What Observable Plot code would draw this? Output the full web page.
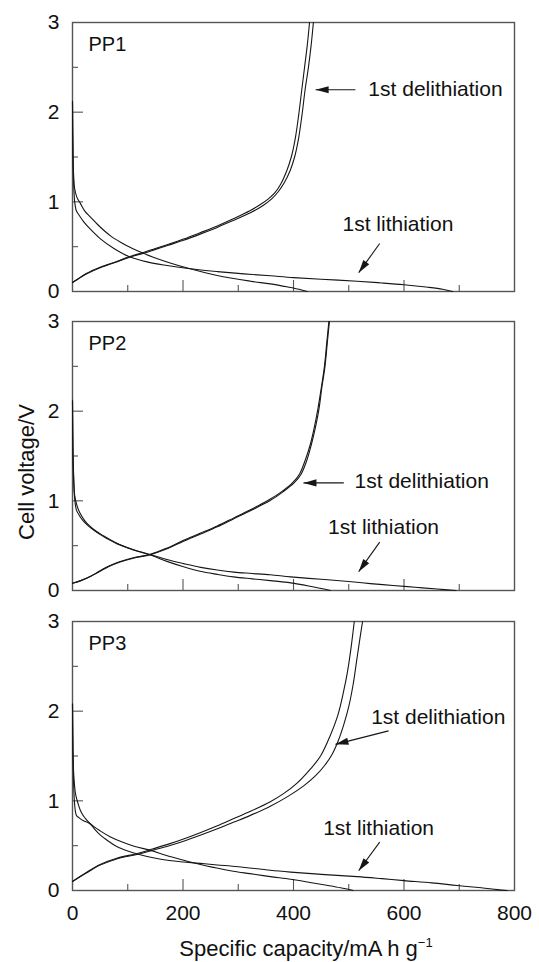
<!DOCTYPE html>
<html><head><meta charset="utf-8">
<script src="https://cdn.jsdelivr.net/npm/d3@7"></script>
<script src="https://cdn.jsdelivr.net/npm/@observablehq/plot@0.6"></script>
<style>
html,body{margin:0;padding:0;background:#fff;}
#fig{position:relative;width:539px;height:962px;overflow:hidden;font-family:"Liberation Sans",Arial,Helvetica,sans-serif;color:#111;background:#fff;}
#fig svg{display:block;}
.ytitle{position:absolute;left:-123px;top:461px;width:300px;height:22px;line-height:22px;font-size:22px;text-align:center;transform:rotate(-90deg);white-space:nowrap;}
.xtitle{position:absolute;left:106px;top:937px;width:400px;height:23px;line-height:23px;font-size:22px;text-align:center;white-space:nowrap;}
.xtitle sup{font-size:13px;vertical-align:0;position:relative;top:-9px;}
</style>
</head><body>
<div id="fig"></div>
<script>
// ---- data ----
const panelNames = ["PP1", "PP2", "PP3"];
const curveNames = ["delithiation A", "delithiation B", "1st lithiation", "2nd lithiation"];
const capDomain = [0, 800];
const voltDomain = [0, 3];
const capTickLabels = [0, 200, 400, 600, 800];
const capTicksMajor = [200, 400, 600];
const capTicksMinor = [100, 300, 500, 700];
const voltTickLabels = [0, 1, 2, 3];
const voltTicksMajor = [1, 2];
const voltTicksMinor = [0.5, 1.5, 2.5];
const annotTexts = ["1st delithiation", "1st lithiation"];

// PP1 curves [capacity, voltage]
const pp1DelithA = [[0,0.10],[10,0.14],[25,0.2],[50,0.27],[80,0.335],[101,0.385],[128,0.435],[150,0.48],[175,0.53],[201,0.585],[231,0.655],[262,0.73],[291,0.81],[321,0.9],[340,0.97],[354,1.03],[366,1.1],[377,1.2],[388,1.35],[396,1.5],[403,1.7],[409,1.95],[415,2.25],[420,2.5],[425,2.75],[429,3.0]];
const pp1DelithB = [[0,0.10],[10,0.14],[25,0.195],[50,0.265],[80,0.33],[101,0.378],[128,0.425],[150,0.47],[175,0.52],[201,0.572],[231,0.64],[262,0.715],[291,0.792],[321,0.875],[345,0.96],[360,1.03],[372,1.11],[383,1.21],[394,1.35],[402,1.5],[409,1.7],[415,1.95],[421,2.25],[427,2.5],[432,2.75],[436,3.0]];
const pp1Lith1 = [[0,2.12],[0.4,1.8],[1,1.5],[2,1.22],[4,1.0],[7,0.9],[12,0.85],[20,0.78],[30,0.71],[50,0.59],[75,0.48],[102,0.39],[135,0.33],[171,0.29],[213,0.253],[262,0.222],[310,0.197],[358,0.175],[400,0.155],[450,0.137],[515,0.115],[560,0.095],[600,0.075],[640,0.05],[670,0.026],[688,0]];
const pp1Lith2 = [[0,2.12],[0.4,1.8],[1,1.5],[2,1.3],[3.6,1.16],[8,1.05],[14.5,0.98],[22,0.9],[32.6,0.83],[45,0.75],[57,0.68],[70,0.615],[87,0.55],[105,0.49],[123,0.44],[145,0.385],[171,0.33],[213,0.253],[262,0.178],[322,0.115],[358,0.085],[390,0.05],[410,0.025],[425,0]];

// PP2 curves
const pp2DelithA = [[0,0.08],[15,0.11],[33,0.16],[50,0.22],[65,0.27],[85,0.32],[110,0.365],[141,0.405],[170,0.47],[201,0.56],[232,0.64],[262,0.72],[292,0.81],[322,0.9],[355,1.01],[378,1.1],[398,1.2],[411,1.3],[421,1.45],[430,1.62],[437,1.8],[444,2.02],[450,2.25],[456,2.5],[460,2.75],[464,3.0]];
const pp2DelithB = [[0,0.08],[15,0.11],[33,0.16],[50,0.215],[65,0.265],[85,0.315],[110,0.36],[141,0.4],[170,0.462],[201,0.55],[232,0.63],[262,0.71],[292,0.8],[322,0.89],[357,1.0],[381,1.1],[401,1.2],[414,1.3],[424,1.45],[432,1.62],[439,1.8],[446,2.02],[451,2.25],[457,2.5],[461,2.75],[465,3.0]];
const pp2Lith1 = [[0,2.12],[0.4,1.8],[1,1.5],[2,1.25],[4,1.02],[7,0.9],[12,0.84],[19,0.78],[27,0.73],[37,0.68],[51,0.62],[62,0.58],[81,0.52],[111,0.455],[141,0.40],[171,0.345],[201,0.3],[232,0.258],[262,0.228],[292,0.205],[325,0.19],[358,0.175],[395,0.152],[450,0.125],[500,0.1],[539,0.077],[580,0.056],[620,0.036],[660,0.016],[694,0]];
const pp2Lith2 = [[0,2.12],[0.4,1.8],[1,1.5],[2,1.3],[4,1.06],[8,0.95],[13,0.87],[22,0.78],[31,0.72],[43,0.66],[56,0.61],[70,0.56],[86,0.51],[110,0.452],[141,0.395],[171,0.325],[201,0.265],[231,0.215],[262,0.18],[291,0.152],[325,0.13],[358,0.11],[395,0.085],[430,0.047],[467,0]];

// PP3 curves
const pp3DelithA = [[0,0.1],[25,0.2],[50,0.29],[80,0.36],[119,0.415],[146,0.465],[175,0.52],[201,0.575],[231,0.645],[261,0.72],[291,0.8],[321,0.88],[358,0.99],[382,1.08],[407,1.2],[430,1.35],[449,1.5],[466,1.72],[480,1.95],[490,2.2],[498,2.45],[504,2.7],[510,3.0]];
const pp3DelithB = [[0,0.1],[25,0.195],[50,0.283],[80,0.352],[119,0.405],[146,0.45],[175,0.5],[201,0.55],[231,0.615],[261,0.685],[291,0.76],[321,0.835],[358,0.94],[390,1.05],[419,1.17],[440,1.28],[457,1.4],[470,1.52],[481,1.67],[491,1.85],[500,2.05],[508,2.3],[514,2.55],[520,2.8],[525,3.0]];
const pp3Lith1 = [[0,2.08],[0.4,1.8],[1,1.5],[2,1.2],[4,0.95],[7,0.84],[12,0.81],[19,0.78],[27,0.76],[34,0.73],[42,0.67],[50,0.62],[65,0.55],[80,0.49],[100,0.44],[119,0.405],[146,0.365],[175,0.335],[201,0.318],[231,0.302],[262,0.285],[300,0.265],[358,0.225],[395,0.205],[450,0.18],[515,0.155],[560,0.132],[600,0.11],[650,0.085],[696,0.056],[740,0.03],[769,0.01],[787,0]];
const pp3Lith2 = [[0,2.08],[0.4,1.8],[1,1.5],[2,1.32],[4,1.15],[6,1.06],[10,0.97],[16,0.87],[25,0.79],[37,0.72],[50,0.665],[68,0.6],[90,0.54],[113,0.49],[140,0.45],[170,0.39],[200,0.34],[219,0.31],[261,0.25],[291,0.215],[321,0.188],[358,0.155],[395,0.125],[430,0.09],[460,0.058],[485,0.03],[508,0]];

// annotation anchors per panel: [capacity, voltage] for label centres
const pp1LabelPos = [[657,2.25],[589,0.755]];
const pp2LabelPos = [[632,1.22],[563,0.70]];
const pp3LabelPos = [[662,1.93],[554,0.69]];
// arrows per panel: [tailCap, tailVolt, tipCap, tipVolt]
const pp1Arrows = [[512,2.25,440,2.25],[556,0.535,518,0.21]];
const pp2Arrows = [[491,1.2,418,1.2],[556,0.54,518,0.21]];
const pp3Arrows = [[572,1.78,476,1.63],[556,0.54,518,0.22]];

// ---- build ----
const panelCurves = [
  [pp1DelithA, pp1DelithB, pp1Lith1, pp1Lith2],
  [pp2DelithA, pp2DelithB, pp2Lith1, pp2Lith2],
  [pp3DelithA, pp3DelithB, pp3Lith1, pp3Lith2]
];
const panelLabels = [pp1LabelPos, pp2LabelPos, pp3LabelPos];
const panelArrows = [pp1Arrows, pp2Arrows, pp3Arrows];

const W = 539, ML = 72, MR = 25, PH = 269;
const plotW = W - ML - MR;
const kx = plotW / (capDomain[1] - capDomain[0]);
const ky = PH / (voltDomain[1] - voltDomain[0]);
const ink = "#161616";
const frameInk = "#555";
const font = '"Liberation Sans", Arial, Helvetica, sans-serif';

const arrowHead = {
  draw(ctx) {
    ctx.moveTo(0, 0);
    ctx.lineTo(3.6, 13);
    ctx.lineTo(-3.6, 13);
    ctx.closePath();
  }
};

const layouts = [
  {height: 300, top: 22, bottom: 9},
  {height: 300, top: 21, bottom: 10},
  {height: 362, top: 21, bottom: 72}
];

const fig = document.getElementById("fig");

panelNames.forEach((name, i) => {
  const rows = [];
  panelCurves[i].forEach((pts, ci) => pts.forEach(([cap, v]) => rows.push({curve: curveNames[ci], cap, v})));
  const labels = panelLabels[i].map(([cap, v], k) => ({cap, v, text: annotTexts[k]}));
  const arrows = panelArrows[i].map(([x1, y1, x2, y2]) => ({
    x1, y1, x2, y2,
    angle: Math.atan2((x2 - x1) * kx, (y2 - y1) * ky) * 180 / Math.PI
  }));
  const L = layouts[i];
  const marks = [
    Plot.frame({stroke: frameInk, strokeWidth: 1.4}),
    Plot.tickY(voltTicksMinor, {y: d => d, insetRight: plotW - 6, stroke: frameInk, strokeWidth: 1.1}),
    Plot.tickY(voltTicksMajor, {y: d => d, insetRight: plotW - 11, stroke: frameInk, strokeWidth: 1.1}),
    Plot.tickX(capTicksMinor, {x: d => d, insetTop: PH - 6, stroke: frameInk, strokeWidth: 1.1}),
    Plot.tickX(capTicksMajor, {x: d => d, insetTop: PH - 11, stroke: frameInk, strokeWidth: 1.1}),
    Plot.axisY({ticks: voltTickLabels, tickSize: 0, tickPadding: 13, fontSize: 21, label: null, tickFormat: d => String(d)}),
    Plot.line(rows, {x: "cap", y: "v", z: "curve", stroke: ink, strokeWidth: 1.1, curve: "catmull-rom"}),
    Plot.text([name], {text: d => d, frameAnchor: "top-left", dx: 16, dy: 14, lineAnchor: "top", textAnchor: "start", fontSize: 20, fill: "#111"}),
    Plot.text(labels, {x: "cap", y: "v", text: "text", textAnchor: "middle", lineAnchor: "middle", fontSize: 21, fill: "#111"}),
    Plot.link(arrows, {x1: "x1", y1: "y1", x2: "x2", y2: "y2", stroke: ink, strokeWidth: 1.1}),
    Plot.dot(arrows, {x: "x2", y: "y2", symbol: arrowHead, r: 5, rotate: "angle", fill: ink, stroke: "none"})
  ];
  if (i === panelNames.length - 1) {
    marks.push(Plot.axisX({ticks: capTickLabels, tickSize: 0, tickPadding: 15, fontSize: 21, label: null, tickFormat: d => String(d)}));
  }
  const chart = Plot.plot({
    width: W, height: L.height,
    marginLeft: ML, marginRight: MR, marginTop: L.top, marginBottom: L.bottom,
    x: {domain: capDomain, axis: null},
    y: {domain: voltDomain, axis: null},
    style: {fontFamily: font, fontSize: "21px", color: "#111", background: "white", overflow: "visible"},
    marks
  });
  fig.appendChild(chart);
});

const yt = document.createElement("div");
yt.className = "ytitle";
yt.textContent = "Cell voltage/V";
fig.appendChild(yt);
const xt = document.createElement("div");
xt.className = "xtitle";
xt.innerHTML = "Specific capacity/mA h g<sup>\u22121</sup>";
fig.appendChild(xt);
</script>
</body></html>
